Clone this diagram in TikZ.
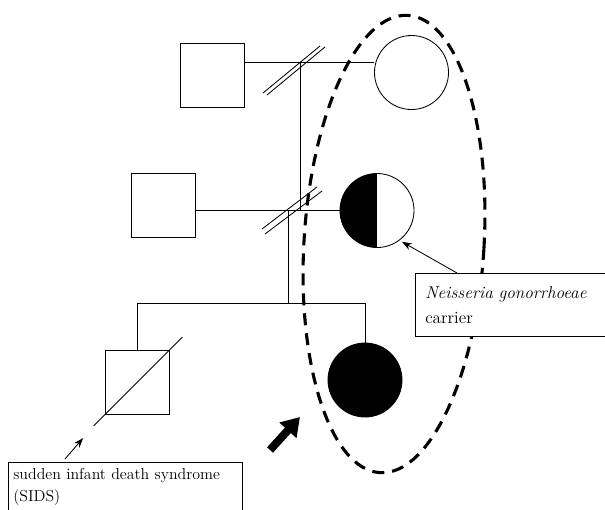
\documentclass[tikz,border=0pt]{standalone}
\usepackage{tikz}
\usetikzlibrary{positioning}
\usetikzlibrary{shapes.geometric}
\usetikzlibrary{arrows.meta}
\usetikzlibrary{calc}
\tikzstyle{line} = [draw, line width=0.6pt]

\begin{document}
\begin{tikzpicture}[x=0.025cm, y=-0.025cm,
				male/.style={draw, rectangle, line width=0.6pt, minimum size=1.6cm, inner sep=0pt},
				female/.style={draw, circle, line width=0.6pt, minimum size=1.85cm, inner sep=0pt},
				carrier/.style={female, path picture={\fill ([xshift=-1pt]path picture bounding box.north west) rectangle (path picture bounding box.south);}},
				affected/.style={female, fill=black},
				textbox/.style={draw, rectangle, line width=0.6pt, fill=white, align=left, anchor=north west},
				every text node part/.style={align=left}]
				\useasboundingbox (0,0) rectangle (605,509);
				% first generation
				\node[male](node1) at (212.5,75) {};
				\node[female](node11) at (411.5,72.5) {};
				% second generation
				\node[male](node2) at (163,205) {};
				\node[carrier](node21) at (377,210.5) {};
				% children
				\node[male](node3) at (137,382.5) {};
				\node[affected](node31) at (365,380) {};
				
				\coordinate (mar1) at (300,62);
				\coordinate (mar2) at (300,210);
				\coordinate (desc2) at (288,210);
				\coordinate (sib) at (288,303);
				
				\draw[line] (node1.east |- mar1) -- (node11.west |- mar1);
				\draw[line] (mar1) -- (mar2);
				\draw[line] (node2.east |- mar2) -- (node21.west |- mar2);
				\draw[line] (desc2) -- (sib);
				\draw[line] (node3.north) |- (node31.north |- sib) -- (node31.north);
				
				% separation marks
				\coordinate (div1) at (293,70);
				\coordinate (div2) at (291,210);
				\draw[line] ([shift={(-30,23)}]div1) -- ([shift={(27,-24)}]div1);
				\draw[line] ([shift={(-26,25)}]div1) -- ([shift={(32,-23)}]div1);
				\draw[line] ([shift={(-29,19)}]div2) -- ([shift={(26,-23)}]div2);
				\draw[line] ([shift={(-26,24)}]div2) -- ([shift={(31,-19)}]div2);
				
				% deceased
				\coordinate (dec1) at ($(node3.south west)!-0.17!(node3.north east)$);
				\coordinate (dec2) at ($(node3.south west)!1.2!(node3.north east)$);
				\draw[line] (dec1) -- (dec2);
				
				\node[draw, ellipse, line width=2.2pt, dash pattern=on 0.3cm off 0.2cm, minimum width=4.5cm, minimum height=11.45cm, inner sep=0pt, rotate=-3.5](ring) at (394,244) {};
				
				\node[textbox, inner xsep=3.5pt, inner ysep=4.5pt, text width=5.6cm, font={\fontsize{11.3}{15.6}\selectfont}](sids) at (8,462) {sudden infant death syndrome\\(SIDS)};
				\node[textbox, inner xsep=7pt, text width=4.8cm, minimum height=1.575cm, font={\fontsize{12.2}{17.8}\selectfont}](ng) at (415,273) {\textit{Neisseria gonorrhoeae}\\carrier};
				
				\coordinate (bigtail) at (270,450);
				\coordinate (bighead) at (300,417);
				
				\draw[line, -{Stealth[length=7pt, width=5pt]}, shorten >=0.4cm] ([shift={(57,-3)}]sids.north west) -- (dec1);
				\draw[line, -{Stealth[length=7pt, width=5pt]}, shorten >=2pt] ([xshift=1.05cm]ng.north west) -- (node21.-53);
				\draw[-{Triangle[width=0.55cm, length=0.45cm]}, line width=0.2cm] (bigtail) -- (bighead);
			\end{tikzpicture}
\end{document}
